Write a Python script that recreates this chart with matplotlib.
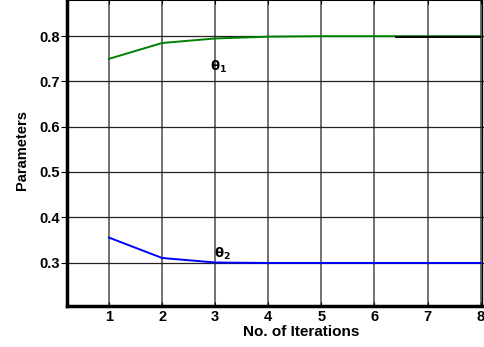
import matplotlib
matplotlib.use("Agg")
import matplotlib.pyplot as plt

iterations = [1, 2, 3, 4, 5, 6, 7, 8]
theta1 = [0.750, 0.785, 0.795, 0.799, 0.800, 0.800, 0.800, 0.800]
theta2 = [0.355, 0.310, 0.300, 0.299, 0.299, 0.299, 0.299, 0.299]
black_x = [6.4, 7.98]
black_y = [0.798, 0.798]
xticks = [1, 2, 3, 4, 5, 6, 7, 8]
yticks = [0.3, 0.4, 0.5, 0.6, 0.7, 0.8]

plt.rcParams['font.family'] = ['Liberation Sans', 'DejaVu Sans']

fig = plt.figure(figsize=(4.85, 3.47), dpi=100)
ax = fig.add_axes([67/485, 1-305.5/347, (482-67)/485, 305.5/347])

for x in xticks:
    ax.axvline(x, color='#666666', lw=1.3, zorder=1)
for y in yticks:
    ax.axhline(y, color='#222222', lw=0.9, zorder=1)

ax.plot(iterations, theta1, color='#008000', lw=1.4, zorder=3)
ax.plot(black_x, black_y, color='black', lw=1.4, zorder=4)
ax.plot(iterations, theta2, color='#0000ff', lw=1.4, zorder=3)

ax.text(3.06, 0.731, r'$\mathbf{\theta}_\mathbf{1}$', fontsize=9.5, fontweight='bold', ha='center', va='center')
ax.text(3.13, 0.318, r'$\mathbf{\theta}_\mathbf{2}$', fontsize=9.5, fontweight='bold', ha='center', va='center')

ax.set_xlim(0.209, 8.025)
ax.set_ylim(0.205, 0.88)
ax.set_xticks(xticks)
ax.set_yticks(yticks)
ax.set_xticklabels([str(v) for v in xticks], fontweight='bold', fontsize=10.5)
ax.set_yticklabels([f'{v:.1f}' for v in yticks], fontweight='bold', fontsize=10.5)
ax.tick_params(axis='x', direction='in', length=3, pad=3, top=True)
ax.tick_params(axis='y', direction='out', length=4, pad=1, right=True)

ax.spines['left'].set_linewidth(2.5)
ax.spines['bottom'].set_linewidth(2.5)
ax.spines['right'].set_linewidth(1.0)
ax.spines['top'].set_linewidth(1.5)

fig.text(301/485, 1-332/347, 'No. of Iterations', fontsize=11, fontweight='bold', ha='center', va='center')
fig.text(22/485, 1-150/347, 'Parameters', fontsize=10.5, fontweight='bold', ha='center', va='center', rotation=90)

fig.savefig('out.png', dpi=100)
